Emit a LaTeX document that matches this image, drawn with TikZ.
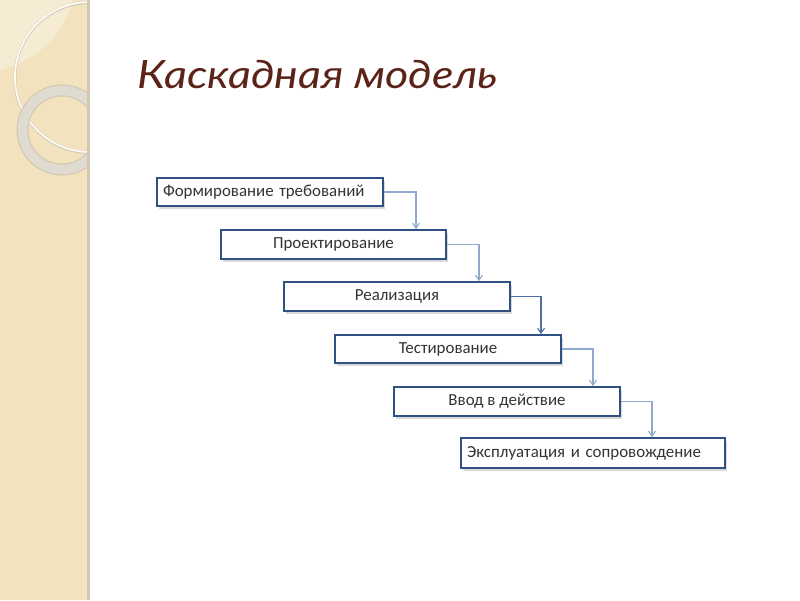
\documentclass[tikz,border=0pt]{standalone}
\usepackage{fontspec}
\setmainfont{Carlito}
\newfontfamily\titlefont{Lato}
\usetikzlibrary{arrows.meta}
\definecolor{barc}{HTML}{F2E3BE}
\definecolor{barlight}{HTML}{F6ECD4}
\definecolor{baredge}{HTML}{D2C8B2}
\definecolor{ringc}{HTML}{E0DBD0}
\definecolor{ringedge}{HTML}{D3C9B4}
\definecolor{titlec}{HTML}{5C2418}
\definecolor{boxc}{HTML}{2F5283}
\definecolor{linklight}{HTML}{8FA9CF}
\definecolor{linkdark}{HTML}{4C6FA5}
\tikzset{
  stagebox/.style={draw=boxc, line width=1.8pt, fill=white, inner sep=0pt,
    font=\fontsize{16.9}{18}\selectfont, text=black!80},
  link/.style={draw=linklight, line width=1.1pt, -{Straight Barb[length=5pt,width=7pt]}},
  darklink/.style={link, draw=linkdark}
}
\begin{document}
\begin{tikzpicture}[x=1pt,y=-1pt]
\useasboundingbox (0,0) rectangle (800,600);
\fill[white] (0,0) rectangle (800,600);
% left decorative bar
\begin{scope}
\clip (0,0) rectangle (88,600);
\fill[barc] (0,0) rectangle (88,600);
\fill[barlight] (0,0) -- (72,0) .. controls (68,25) and (45,58) .. (0,70) -- cycle;
\draw[ringedge, line width=3pt] (90,77.5) circle[radius=75pt];
\draw[white!80!barlight, line width=1.8pt] (90,77) circle[radius=75pt];
\draw[ringedge, line width=12pt] (62,130) circle[radius=39.5pt];
\draw[ringc, line width=9.5pt] (62,130) circle[radius=39.5pt];
\end{scope}
\fill[baredge] (87,0) rectangle (90,600);
% title
\node[anchor=base west, inner sep=0pt, text=titlec, font=\titlefont\itshape\fontsize{39}{42}\selectfont] (title) at (137,88) {\scalebox{1.15}[1]{Каскадная модель}};
% shadows
\foreach \cx/\cy/\w/\h in {270/192/226/28, 333.5/244.5/225/29, 397/296.5/226/29, 448/349/226/28, 507/401.5/226/29, 593/453/264/30}{
  \fill[black!15] (\cx-\w/2+2,\cy-\h/2+3) rectangle (\cx+\w/2+2,\cy+\h/2+2.5);
}
% boxes
\node[stagebox, minimum width=226pt, minimum height=28pt, text width=214pt, align=left] (b1) at (270,192) {Формирование требований};
\node[stagebox, minimum width=225pt, minimum height=29pt] (b2) at (333.5,244.5) {Проектирование};
\node[stagebox, minimum width=226pt, minimum height=29pt] (b3) at (397,296.5) {Реализация};
\node[stagebox, minimum width=226pt, minimum height=28pt] (b4) at (448,349) {Тестирование};
\node[stagebox, minimum width=226pt, minimum height=29pt] (b5) at (507,401.5) {Ввод в действие};
\node[stagebox, minimum width=264pt, minimum height=30pt, text width=252pt, align=left] (b6) at (593,453) {Эксплуатация и сопровождение};
% turn coordinates
\coordinate (k1) at (416,0);
\coordinate (k2) at (479,0);
\coordinate (k3) at (541,0);
\coordinate (k4) at (593,0);
\coordinate (k5) at (652,0);
\draw[link] (b1.east) -| (b2.north -| k1);
\draw[link] (b2.east) -| (b3.north -| k2);
\draw[darklink] (b3.east) -| (b4.north -| k3);
\draw[link] (b4.east) -| (b5.north -| k4);
\draw[link] (b5.east) -| (b6.north -| k5);
\end{tikzpicture}
\end{document}
